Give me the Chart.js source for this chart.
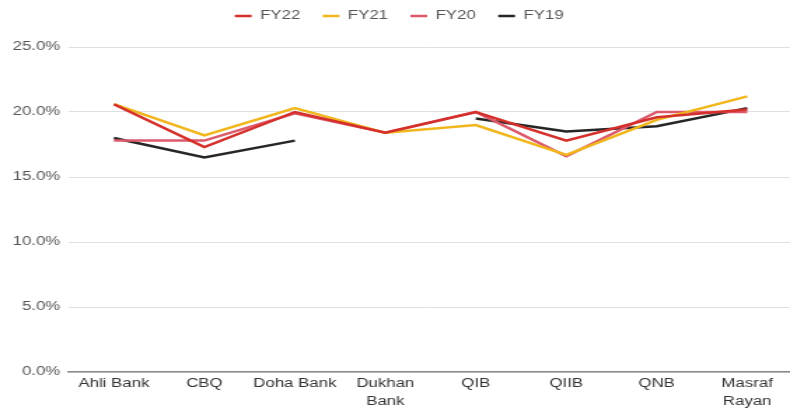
<!DOCTYPE html>
<html>
<head>
<meta charset="utf-8">
<script src="https://cdn.jsdelivr.net/npm/chart.js@4.4.1/dist/chart.umd.min.js"></script>
<style>
	html, body { margin:0; padding:0; background:#fff; overflow:hidden; }
	/* the reference picture is stretched sideways, so draw narrow and stretch */
	#wrap { position:relative; width:567px; height:414px; transform:scaleX(1.4007); transform-origin:0 0; }
</style>
</head>
<body>
<div id="wrap"><canvas id="c"></canvas></div>
<script>
const banks = ['Ahli Bank', 'CBQ', 'Doha Bank', ['Dukhan', 'Bank'], 'QIB', 'QIIB', 'QNB', ['Masraf', 'Rayan']];
const fy22 = [20.6, 17.3, 20.0, 18.4, 20.0, 17.8, 19.6, 20.2];
const fy21 = [20.6, 18.2, 20.3, 18.4, 19.0, 16.7, 19.4, 21.2];
const fy20 = [17.8, 17.8, 19.9, 18.4, 20.0, 16.6, 20.0, 20.0];
const fy19 = [18.0, 16.5, 17.8, null, 19.5, 18.5, 18.9, 20.3];
const yTicks = [0, 5, 10, 15, 20, 25];

const font = { family: 'Liberation Sans, Arial', size: 12 };

const line = (label, data, color) => ({
	label: label,
	data: data,
	borderColor: color,
	backgroundColor: color,
	borderWidth: 2.5,
	pointRadius: 0,
	tension: 0,
	spanGaps: false,
});

// extra room under the legend
const legendGap = {
	id: 'legendGap',
	beforeInit(chart) {
		const fit = chart.legend.fit;
		chart.legend.fit = function() {
			fit.bind(chart.legend)();
			this.height += 15;
		};
	}
};

new Chart(document.getElementById('c'), {
	type: 'line',
	data: {
		labels: banks,
		datasets: [
			line('FY22', fy22, '#d42f2a'),
			line('FY21', fy21, '#f0b61c'),
			line('FY20', fy20, '#dc5a6c'),
			line('FY19', fy19, '#262626'),
		]
	},
	plugins: [legendGap],
	options: {
		responsive: true,
		maintainAspectRatio: false,
		animation: false,
		layout: { padding: { left: 3, right: 0, top: -6, bottom: 0 } },
		plugins: {
			legend: {
				position: 'top',
				labels: {
					usePointStyle: true,
					pointStyle: 'line',
					pointStyleWidth: 12,
					color: '#555',
					font: font,
					padding: 16,
				}
			},
			tooltip: { enabled: false },
		},
		scales: {
			x: {
				offset: true,
				grid: { display: false, drawTicks: false },
				border: { display: true, color: '#8a8a8a', width: 1.5 },
				ticks: {
					color: '#333',
					maxRotation: 0,
					autoSkip: false,
					font: { family: 'Liberation Sans, Arial', size: 12, lineHeight: 1.5 },
					padding: 3,
				}
			},
			y: {
				min: 0,
				max: 25,
				afterBuildTicks: s => { s.ticks = yTicks.map(v => ({ value: v })) },
				border: { display: false },
				grid: { color: '#e0e0e0', drawTicks: false },
				ticks: {
					color: '#555',
					padding: 6,
					font: font,
					callback: v => v.toFixed(1) + '%',
				}
			}
		}
	}
});
</script>
</body>
</html>
